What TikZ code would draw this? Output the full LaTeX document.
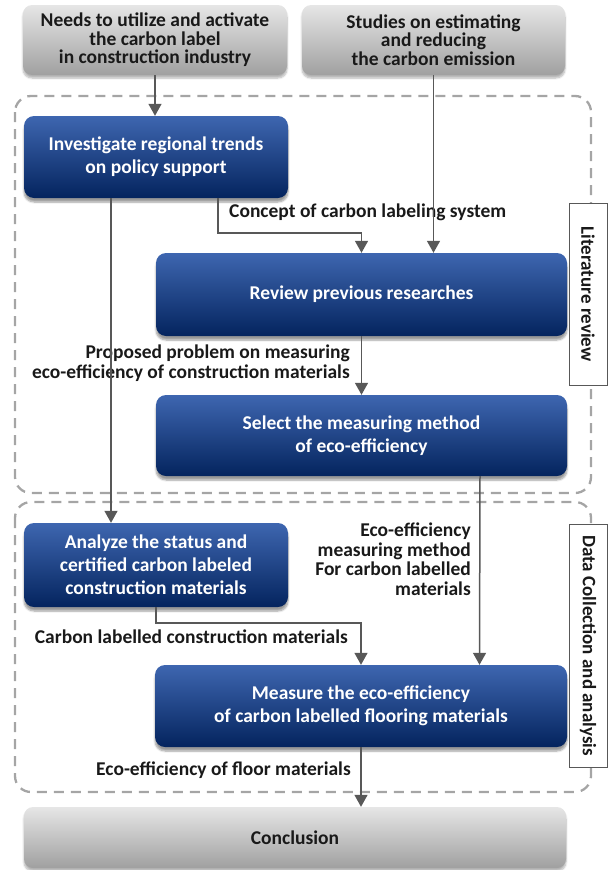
\documentclass[tikz,border=0pt]{standalone}
\usepackage{fontspec}
\setmainfont{Carlito}
\usetikzlibrary{arrows.meta,positioning,shadows.blur}
\definecolor{stepTop}{RGB}{62,102,176}
\definecolor{stepBot}{RGB}{4,36,94}
\definecolor{inTop}{RGB}{230,230,230}
\definecolor{inBot}{RGB}{160,160,160}
\definecolor{linegray}{RGB}{88,88,88}
\definecolor{zonegray}{RGB}{165,165,165}
\tikzset{
  inbox/.style={rounded corners=9pt, top color=inTop, bottom color=inBot, inner sep=0pt, align=center, font=\fontsize{19.5}{18.5}\selectfont\bfseries, text=black!90, blur shadow={shadow xshift=0pt, shadow yshift=-3pt, shadow opacity=30, shadow blur steps=6}},
  stepbox/.style={rounded corners=10pt, top color=stepTop, bottom color=stepBot, inner sep=0pt, text=white, align=center, font=\fontsize{19.5}{23}\selectfont\bfseries, blur shadow={shadow xshift=0pt, shadow yshift=-4pt, shadow opacity=40, shadow blur steps=6}},
  tag/.style={draw=linegray, fill=white, rotate=-90, inner sep=0pt, minimum height=38pt, font=\fontsize{19}{20}\selectfont\bfseries, text=black!90},
  zone/.style={draw=zonegray, line width=2.3pt, dash pattern=on 10pt off 7pt, rounded corners=16pt},
  arr/.style={-{Triangle[length=12pt,width=13pt]}, draw=linegray, line width=1.5pt},
  lbl/.style={font=\fontsize{19.5}{19.5}\selectfont\bfseries, text=black!90, align=right, inner sep=0pt},
}

\begin{document}
\begin{tikzpicture}[x=1pt,y=-1pt]
\useasboundingbox (0,0) rectangle (610,870);
\draw[zone] (15,96) rectangle (591,493);
\draw[zone] (15,502) rectangle (591,792);

\node[inbox, minimum width=264pt, minimum height=70pt] (need) at (155,40) {Needs to utilize and activate\\the carbon label\\in construction industry};
\node[inbox, minimum width=263pt, minimum height=70pt] (study) at (433.5,40) {Studies on estimating\\and reducing\\the carbon emission};
\node[stepbox, minimum width=264pt, minimum height=82pt] (inv) at (156,157) {Investigate regional trends\\on policy support};
\node[stepbox, minimum width=411pt, minimum height=83pt] (rev) at (361.5,294.5) {Review previous researches};
\node[stepbox, minimum width=411pt, minimum height=81pt] (sel) at (361.5,435.5) {Select the measuring method\\of eco-efficiency};
\node[stepbox, minimum width=264pt, minimum height=84pt] (ana) at (156,565) {Analyze the status and\\certified carbon labeled\\construction materials};
\node[stepbox, minimum width=412pt, minimum height=82pt] (meas) at (361,706) {Measure the eco-efficiency\\of carbon labelled flooring materials};
\node[inbox, minimum width=542pt, minimum height=61pt] (con) at (295,837.5) {Conclusion};
\node[tag, minimum width=182pt] (litrev) at (588,294) {Literature review};
\node[tag, minimum width=243pt] (datacol) at (588,645.5) {Data Collection and analysis};

\node[lbl, anchor=west] (l1) at (229,212) {Concept of carbon labeling system};
\node[lbl, anchor=east] (l2) at (350,363) {Proposed problem on measuring\\eco-efficiency of construction materials};
\node[lbl, anchor=east] (l3) at (471,559) {Eco-efficiency\\measuring method\\For carbon labelled\\materials};
\node[lbl, anchor=east] (l4) at (348,637) {Carbon labelled construction materials};
\node[lbl, anchor=east] (l5) at (351,770) {Eco-efficiency of floor materials};

\draw[arr] (need.south) -- (need.south |- inv.north); \draw[arr] (study.south) -- (study.south |- rev.north);
\draw[arr] ([xshift=62pt]inv.south) -- ++(0,35) -| (rev.north); \draw[arr] (rev) -- (sel);
\draw[arr] ([xshift=-45pt]inv.south) -- ([xshift=-45pt]ana.north); \draw[arr] ([xshift=118.5pt]sel.south) -- ([xshift=118.5pt]meas.north);
\draw[arr] (ana.south) -- ++(0,16) -| (meas.north); \draw[arr] (meas.south) -- (meas.south |- con.north);
\end{tikzpicture}
\end{document}
